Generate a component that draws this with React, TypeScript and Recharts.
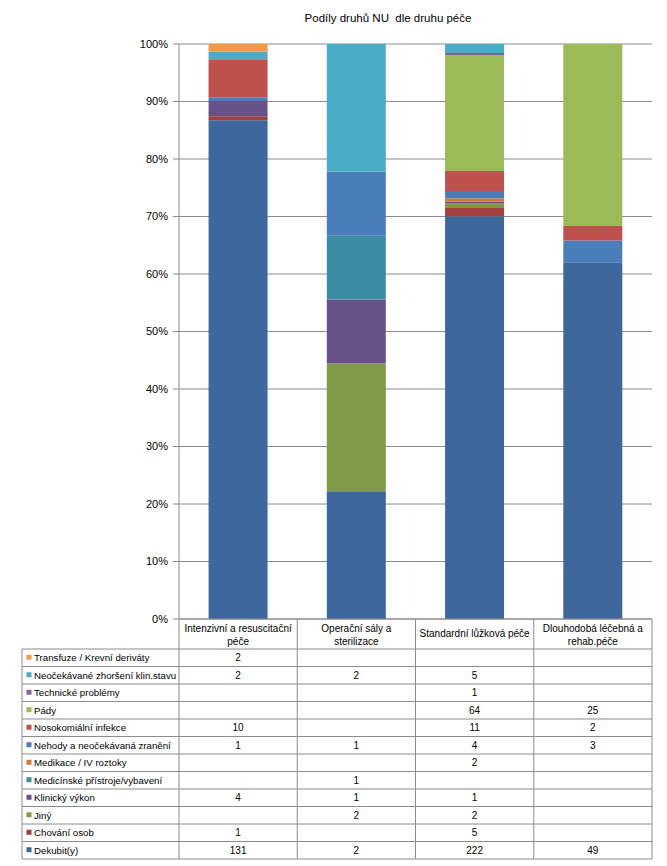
import React from 'react';
import { BarChart, Bar, XAxis, YAxis, CartesianGrid } from 'recharts';

const title = 'Podíly druhů NU  dle druhu péče';

const categories = [
  'Intenzivní a resuscitační\npéče',
  'Operační sály a\nsterilizace',
  'Standardní lůžková péče',
  'Dlouhodobá léčebná a\nrehab.péče',
];

// series in stacking order (bottom -> top)
const seriesNames = [
  'Dekubit(y)',
  'Chování osob',
  'Jiný',
  'Klinický výkon',
  'Medicínské přístroje/vybavení',
  'Medikace / IV roztoky',
  'Nehody a neočekávaná zranění',
  'Nosokomiální infekce',
  'Pády',
  'Technické problémy',
  'Neočekávané zhoršení klin.stavu',
  'Transfuze / Krevní deriváty',
];

const dekubit = [131, 2, 222, 49];
const chovaniOsob = [1, null, 5, null];
const jiny = [null, 2, 2, null];
const klinickyVykon = [4, 1, 1, null];
const medicinskePristroje = [null, 1, null, null];
const medikace = [null, null, 2, null];
const nehody = [1, 1, 4, 3];
const nosokomialni = [10, null, 11, 2];
const pady = [null, null, 64, 25];
const technicke = [null, null, 1, null];
const neocekavane = [2, 2, 5, null];
const transfuze = [2, null, null, null];

const seriesValues: (number | null)[][] = [
  dekubit, chovaniOsob, jiny, klinickyVykon, medicinskePristroje, medikace,
  nehody, nosokomialni, pady, technicke, neocekavane, transfuze,
];

const seriesColors = [
  '#3E689D', '#A3403D', '#7F9B49', '#685089', '#3A8DA3', '#D07B37',
  '#4A7EBB', '#C0504D', '#9BBB59', '#8064A2', '#4BACC6', '#F79646',
];

const yTicks = [0, 0.1, 0.2, 0.3, 0.4, 0.5, 0.6, 0.7, 0.8, 0.9, 1];

const data = categories.map((c, i) => {
  const row: Record<string, any> = { name: c };
  seriesValues.forEach((vals, s) => {
    row['s' + s] = vals[i] ?? 0;
  });
  return row;
});

const FONT = '"Liberation Sans", Arial, sans-serif';
const GRID = '#8C8C8C';
const HEADER_H = 30;
const ROW_H = 17.5;
const LEGEND_LEFT = 22;

const TableTick = (props: any) => {
  const { x, y, payload } = props;
  const n = categories.length;
  const idx = payload?.index ?? props.index ?? 0;
  const colW = (props.width ?? 473) / n;
  const left = x - colW / 2;
  const right = x + colW / 2;
  const rowsOrder = seriesNames.map((_, s) => seriesNames.length - 1 - s);
  const bottom = y + HEADER_H + rowsOrder.length * ROW_H;
  const label = String(categories[idx] ?? payload.value);
  const lines = label.split('\n');
  const els: React.ReactNode[] = [];

  // header
  lines.forEach((ln, k) => {
    const cy = lines.length === 1 ? y + 14 : y + 9 + k * 13.5;
    els.push(
      <text key={'h' + k} x={x} y={cy} textAnchor="middle" dominantBaseline="central"
        fontSize={10} fontFamily={FONT} fill="#000">{ln}</text>
    );
  });

  // column borders
  els.push(<line key="vr" x1={right} y1={y} x2={right} y2={bottom} stroke={GRID} strokeWidth={1} />);
  if (idx === 0) {
    els.push(<line key="vl" x1={left} y1={y} x2={left} y2={bottom} stroke={GRID} strokeWidth={1} />);
    els.push(<line key="vleg" x1={LEGEND_LEFT} y1={y + HEADER_H} x2={LEGEND_LEFT} y2={bottom} stroke={GRID} strokeWidth={1} />);
  }
  const hLeft = idx === 0 ? LEGEND_LEFT : left;
  for (let r = 0; r <= rowsOrder.length; r++) {
    const ly = y + HEADER_H + r * ROW_H;
    els.push(<line key={'hl' + r} x1={hLeft} y1={ly} x2={right} y2={ly} stroke={GRID} strokeWidth={1} />);
  }

  rowsOrder.forEach((s, r) => {
    const cy = y + HEADER_H + r * ROW_H + ROW_H / 2;
    const v = seriesValues[s][idx];
    if (v !== null && v !== undefined) {
      els.push(
        <text key={'v' + r} x={x} y={cy} textAnchor="middle" dominantBaseline="central"
          fontSize={10} fontFamily={FONT} fill="#000">{v}</text>
      );
    }
    if (idx === 0) {
      els.push(<rect key={'lm' + r} x={LEGEND_LEFT + 4.5} y={cy - 3} width={5} height={5} fill={seriesColors[s]} />);
      els.push(
        <text key={'ln' + r} x={LEGEND_LEFT + 12} y={cy} textAnchor="start" dominantBaseline="central"
          fontSize={9.7} fontFamily={FONT} fill="#000">{seriesNames[s]}</text>
      );
    }
  });

  return <g>{els}</g>;
};

export default function App() {
  return (
    <div style={{ position: 'absolute', left: 0, top: 0, width: 667, height: 866, background: '#fff', fontFamily: FONT }}>
      <div style={{ position: 'absolute', left: 238, top: 11, width: 300, textAlign: 'center', fontSize: 11.5, lineHeight: '14px', color: '#000', whiteSpace: 'pre' }}>
        {title}
      </div>
      <BarChart
        width={667}
        height={866}
        data={data}
        stackOffset="expand"
        barCategoryGap="25%"
        margin={{ top: 44, right: 15, bottom: 2, left: 0 }}
      >
        <CartesianGrid vertical={false} stroke={GRID} strokeDasharray="" />
        <YAxis
          width={179}
          domain={[0, 1]}
          ticks={yTicks}
          tickFormatter={(v: number) => `${Math.round(v * 100)}%`}
          axisLine={{ stroke: GRID }}
          tickLine={{ stroke: GRID }}
          tickSize={6}
          tickMargin={5}
          tick={{ fontSize: 11, fill: '#000', fontFamily: FONT }}
          interval={0}
        />
        <XAxis
          dataKey="name"
          height={245}
          interval={0}
          tickSize={0}
          tickMargin={0}
          tickLine={false}
          axisLine={{ stroke: GRID }}
          tick={<TableTick />}
        />
        {seriesNames.map((nm, s) => (
          <Bar key={nm} dataKey={'s' + s} name={nm} stackId="a" fill={seriesColors[s]} isAnimationActive={false} />
        ))}
      </BarChart>
    </div>
  );
}
